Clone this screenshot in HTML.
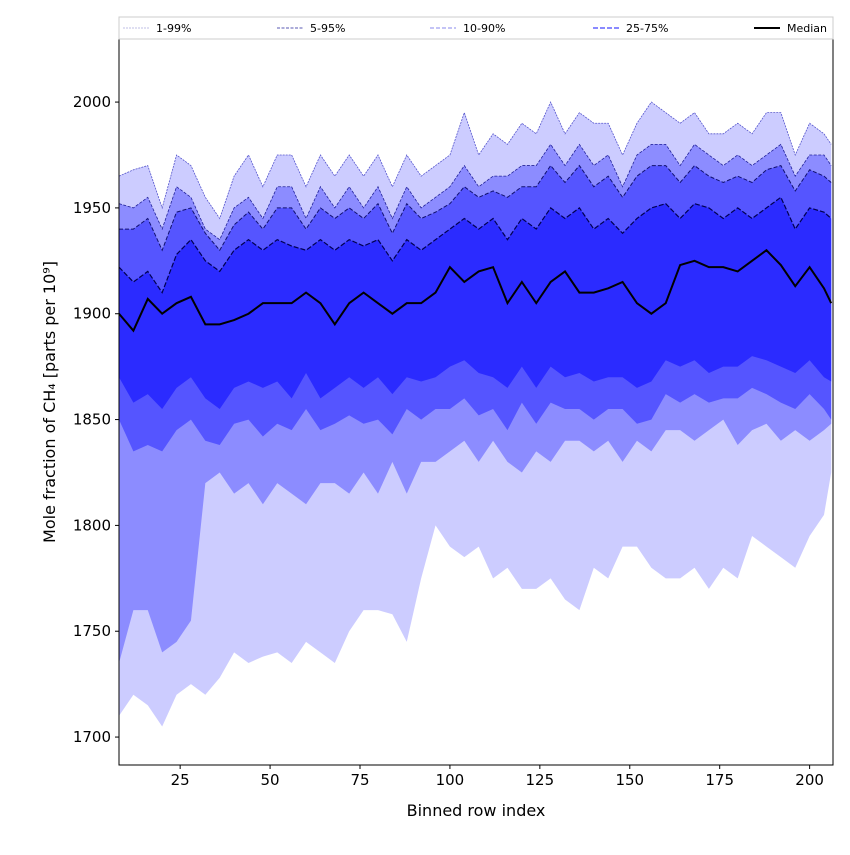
<!DOCTYPE html>
<html><head><meta charset="utf-8"><style>
body{margin:0;background:#fff}
svg text{font-family:"DejaVu Sans","Liberation Sans",sans-serif}
</style></head><body>
<svg id="c" width="850" height="850" xmlns="http://www.w3.org/2000/svg"></svg>
<script>
const xs=[8,12,16,20,24,28,32,36,40,44,48,52,56,60,64,68,72,76,80,84,88,92,96,100,104,108,112,116,120,124,128,132,136,140,144,148,152,156,160,164,168,172,176,180,184,188,192,196,200,204,206];
const p99=[1965,1968,1970,1950,1975,1970,1955,1945,1965,1975,1960,1975,1975,1960,1975,1965,1975,1965,1975,1960,1975,1965,1970,1975,1995,1975,1985,1980,1990,1985,2000,1985,1995,1990,1990,1975,1990,2000,1995,1990,1995,1985,1985,1990,1985,1995,1995,1975,1990,1985,1980];
const p95=[1952,1950,1955,1940,1960,1955,1940,1935,1950,1955,1945,1960,1960,1945,1960,1950,1960,1950,1960,1945,1960,1950,1955,1960,1970,1960,1965,1965,1970,1970,1980,1970,1980,1970,1975,1960,1975,1980,1980,1970,1980,1975,1970,1975,1970,1975,1980,1965,1975,1975,1970];
const p90=[1940,1940,1945,1930,1948,1950,1938,1930,1942,1948,1940,1950,1950,1940,1950,1945,1950,1945,1952,1938,1952,1945,1948,1952,1960,1955,1958,1955,1960,1960,1970,1962,1970,1960,1965,1955,1965,1970,1970,1962,1970,1965,1962,1965,1962,1968,1970,1958,1968,1965,1962];
const p75=[1922,1915,1920,1910,1928,1935,1925,1920,1930,1935,1930,1935,1932,1930,1935,1930,1935,1932,1935,1925,1935,1930,1935,1940,1945,1940,1945,1935,1945,1940,1950,1945,1950,1940,1945,1938,1945,1950,1952,1945,1952,1950,1945,1950,1945,1950,1955,1940,1950,1948,1945];
const med=[1900,1892,1907,1900,1905,1908,1895,1895,1897,1900,1905,1905,1905,1910,1905,1895,1905,1910,1905,1900,1905,1905,1910,1922,1915,1920,1922,1905,1915,1905,1915,1920,1910,1910,1912,1915,1905,1900,1905,1923,1925,1922,1922,1920,1925,1930,1923,1913,1922,1912,1905];
const p25=[1870,1858,1862,1855,1865,1870,1860,1855,1865,1868,1865,1868,1860,1872,1860,1865,1870,1865,1870,1862,1870,1868,1870,1875,1878,1872,1870,1865,1875,1865,1875,1870,1872,1868,1870,1870,1865,1868,1878,1875,1878,1872,1875,1875,1880,1878,1875,1872,1878,1870,1868];
const p10=[1850,1835,1838,1835,1845,1850,1840,1838,1848,1850,1842,1848,1845,1855,1845,1848,1852,1848,1850,1843,1855,1850,1855,1855,1860,1852,1855,1845,1858,1848,1858,1855,1855,1850,1855,1855,1848,1850,1862,1858,1862,1858,1860,1860,1865,1862,1858,1855,1862,1855,1850];
const p5=[1735,1760,1760,1740,1745,1755,1820,1825,1815,1820,1810,1820,1815,1810,1820,1820,1815,1825,1815,1830,1815,1830,1830,1835,1840,1830,1840,1830,1825,1835,1830,1840,1840,1835,1840,1830,1840,1835,1845,1845,1840,1845,1850,1838,1845,1848,1840,1845,1840,1845,1848];
const p1=[1710,1720,1715,1705,1720,1725,1720,1728,1740,1735,1738,1740,1735,1745,1740,1735,1750,1760,1760,1758,1745,1775,1800,1790,1785,1790,1775,1780,1770,1770,1775,1765,1760,1780,1775,1790,1790,1780,1775,1775,1780,1770,1780,1775,1795,1790,1785,1780,1795,1805,1825];
const xTicks=[25,50,75,100,125,150,175,200];
const yTicks=[1700,1750,1800,1850,1900,1950,2000];

const L=119,R=833,T=39,B=765,X0=8,X1=206.5,Y0=1686.8,Y1=2029.8;
const sx=v=>L+(v-X0)/(X1-X0)*(R-L);
const sy=v=>B-(v-Y0)/(Y1-Y0)*(B-T);
const NS="http://www.w3.org/2000/svg";
const svg=document.getElementById('c');
function mk(tag,attrs,parent){const e=document.createElementNS(NS,tag);for(const k in attrs)e.setAttribute(k,attrs[k]);(parent||svg).appendChild(e);return e;}
const clip=mk('clipPath',{id:'cp'});mk('rect',{x:L,y:T,width:R-L,height:B-T},clip);
const g=mk('g',{'clip-path':'url(#cp)'});
function band(lo,hi,col,name){
  let d='M'+xs.map((x,i)=>sx(x)+','+sy(hi[i])).join('L');
  for(let i=xs.length-1;i>=0;i--)d+='L'+sx(xs[i])+','+sy(lo[i]);
  const p=mk('path',{d:d+'Z',fill:col},g);
  
  
}
function line(arr,col,w,dash,name){
  const p=mk('path',{d:'M'+xs.map((x,i)=>sx(x)+','+sy(arr[i])).join('L'),fill:'none',stroke:col,'stroke-width':w,'stroke-dasharray':dash},g);
  
  
}
band(p1,p99,'#ccccff','band-1-99');
band(p5,p95,'#8c8cff','band-5-95');
band(p10,p90,'#5555ff','band-10-90');
band(p25,p75,'#2b2bff','band-25-75');
line(p99,'#5555cc',0.8,'2,1','line-p99');
line(p95,'#22229a',0.8,'3,1.5','line-p95');
line(p90,'#111170',1,'4,2','line-p90');
line(p75,'#000050',1.2,'5,2','line-p75');
line(med,'#000',2,'','median-line');
mk('rect',{x:L,y:T,width:R-L,height:B-T,fill:'none',stroke:'#000','stroke-width':1});
xTicks.forEach(v=>{
  mk('line',{x1:sx(v),x2:sx(v),y1:B,y2:B+4,stroke:'#000'});
  const t=mk('text',{x:sx(v),y:B+20,'text-anchor':'middle','font-size':15});t.textContent=v;
  
  
});
yTicks.forEach(v=>{
  mk('line',{x1:L-4,x2:L,y1:sy(v),y2:sy(v),stroke:'#000'});
  const t=mk('text',{x:L-8,y:sy(v)+5,'text-anchor':'end','font-size':15});t.textContent=v;
  
  
});
</script>
<svg width="850" height="850" style="position:absolute;left:0;top:0" xmlns="http://www.w3.org/2000/svg">
<text x="476" y="816" text-anchor="middle" font-size="16">Binned row index</text>
<text transform="translate(55,402) rotate(-90)" text-anchor="middle" font-size="16">Mole fraction of CH₄ [parts per 10⁹]</text>
<g>
<rect x="119" y="17" width="714" height="22" fill="#fff" stroke="#ccc"/>
<line x1="123" y1="28" x2="149" y2="28" stroke="#aaaadd" stroke-width="0.8" stroke-dasharray="2,1"/>
<text x="156" y="32" font-size="11">1-99%</text>
<line x1="277" y1="28" x2="303" y2="28" stroke="#22229a" stroke-width="0.8" stroke-dasharray="3,1.5"/>
<text x="310" y="32" font-size="11">5-95%</text>
<line x1="430" y1="28" x2="456" y2="28" stroke="#8888ee" stroke-width="1" stroke-dasharray="4,2"/>
<text x="463" y="32" font-size="11">10-90%</text>
<line x1="593" y1="28" x2="619" y2="28" stroke="#4444ff" stroke-width="1.2" stroke-dasharray="5,2"/>
<text x="626" y="32" font-size="11">25-75%</text>
<line x1="754" y1="28" x2="780" y2="28" stroke="#000" stroke-width="2"/>
<text x="787" y="32" font-size="11">Median</text>
</g>
</svg>
</body></html>
